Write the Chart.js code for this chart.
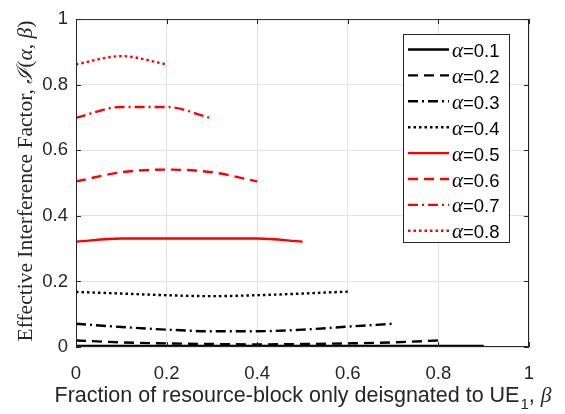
<!DOCTYPE html>
<html>
<head>
<meta charset="utf-8">
<script src="https://cdn.jsdelivr.net/npm/chart.js@4.4.0/dist/chart.umd.min.js"></script>
<style>
    html, body { margin: 0; padding: 0; background: #fff; }
    #wrap { width: 565px; height: 414px; }
</style>
</head>
<body>
<div id="wrap"><canvas id="chart" width="565" height="414"></canvas></div>
<script>
// Effective interference factor vs. beta, one curve per alpha

const betaValues = [0, 0.1, 0.2, 0.3, 0.4, 0.5, 0.6, 0.7, 0.8, 0.9];
const alphaLabels = ['0.1', '0.2', '0.3', '0.4', '0.5', '0.6', '0.7', '0.8'];

const alpha01 = [0.003, 0.003, 0.003, 0.003, 0.003, 0.003, 0.003, 0.003, 0.003, 0.003];
const alpha02 = [0.020, 0.014, 0.011, 0.009, 0.008, 0.009, 0.011, 0.014, 0.020];
const alpha03 = [0.071, 0.061, 0.053, 0.048, 0.048, 0.053, 0.062, 0.071];
const alpha04 = [0.168, 0.163, 0.158, 0.155, 0.158, 0.163, 0.169];
const alpha05 = [0.321, 0.331, 0.331, 0.331, 0.331, 0.321];
const alpha06 = [0.505, 0.533, 0.541, 0.533, 0.505];
const alpha07 = [0.699, 0.732, 0.732, 0.697];
const alpha08 = [0.862, 0.887, 0.862];

const xTicks = [0, 0.2, 0.4, 0.6, 0.8, 1];
const yTicks = [0, 0.2, 0.4, 0.6, 0.8, 1];

const seriesValues = [alpha01, alpha02, alpha03, alpha04, alpha05, alpha06, alpha07, alpha08];
const seriesColors = ['#000000', '#000000', '#000000', '#000000', '#ff0000', '#ff0000', '#ff0000', '#ff0000'];
const solid = [], dashed = [10, 6], dashDot = [10, 4, 2, 4], dotted = [2.5, 3];
const seriesDash = [solid, dashed, dashDot, dotted, solid, dashed, dashDot, dotted];

const SANS = '"Liberation Sans", Arial, sans-serif';
const SERIF = '"Liberation Serif", "Times New Roman", serif';
const TITLE_SIZE = 21.5;

const datasets = seriesValues.map((vals, i) => ({
    label: 'α=' + alphaLabels[i],
    data: vals.map((v, j) => ({ x: betaValues[j], y: v })),
    borderColor: seriesColors[i],
    borderWidth: 2.4,
    borderDash: seriesDash[i],
    pointRadius: 0,
    tension: 0.4,
    cubicInterpolationMode: 'monotone',
    fill: false
}));

// inward ticks, box, axis titles, legend
const matlabDecor = {
    id: 'matlabDecor',
    afterDatasetsDraw(chart) {
        const ctx = chart.ctx;
        const a = chart.chartArea;
        const xs = chart.scales.x, ys = chart.scales.y;
        ctx.save();
        ctx.strokeStyle = '#262626';
        ctx.lineWidth = 1;
        ctx.setLineDash([]);
        ctx.strokeRect(a.left + 0.5, a.top + 0.5, a.right - a.left - 1, a.bottom - a.top - 1);
        ctx.beginPath();
        xTicks.forEach(t => {
            const px = Math.round(xs.getPixelForValue(t)) + 0.5;
            ctx.moveTo(px, a.bottom); ctx.lineTo(px, a.bottom - 5);
            ctx.moveTo(px, a.top); ctx.lineTo(px, a.top + 5);
        });
        yTicks.forEach(t => {
            const py = Math.round(ys.getPixelForValue(t)) + 0.5;
            ctx.moveTo(a.left, py); ctx.lineTo(a.left + 5, py);
            ctx.moveTo(a.right, py); ctx.lineTo(a.right - 5, py);
        });
        ctx.stroke();

        // x title with subscript
        ctx.fillStyle = '#262626';
        ctx.textBaseline = 'alphabetic';
        const main = 'Fraction of resource-block only deisgnated to UE';
        const sub = '1';
        const tail = ', ';
        const mainFont = TITLE_SIZE + 'px ' + SANS;
        const subFont = '15px ' + SANS;
        const betaFont = 'italic ' + TITLE_SIZE + 'px ' + SERIF;
        ctx.font = mainFont;
        const wMain = ctx.measureText(main).width;
        const wTail = ctx.measureText(tail).width;
        ctx.font = subFont;
        const wSub = ctx.measureText(sub).width;
        ctx.font = betaFont;
        const wBeta = ctx.measureText('β').width;
        let x = (a.left + a.right) / 2 - (wMain + wSub + wTail + wBeta) / 2;
        const yb = 402;
        ctx.font = mainFont;
        ctx.fillText(main, x, yb); x += wMain;
        ctx.font = subFont;
        ctx.fillText(sub, x + 1, yb + 7); x += wSub + 1;
        ctx.font = mainFont;
        ctx.fillText(tail, x, yb); x += wTail;
        ctx.font = betaFont;
        ctx.fillText('β', x, yb);

        // y title, rotated
        ctx.save();
        ctx.translate(32, (a.top + a.bottom) / 2 - 2);
        ctx.rotate(-Math.PI / 2);
        const rf = TITLE_SIZE + 'px ' + SERIF;
        const itf = 'italic ' + TITLE_SIZE + 'px ' + SERIF;
        const parts = [
            ['Effective Interference Factor, ', rf],
            ['ℐ', itf],
            ['(', rf],
            ['α', itf],
            [', ', rf],
            ['β', itf],
            [')', rf]
        ];
        let total = 0;
        parts.forEach(p => { ctx.font = p[1]; total += ctx.measureText(p[0]).width; });
        let px = -total / 2;
        parts.forEach(p => { ctx.font = p[1]; ctx.fillText(p[0], px, 0); px += ctx.measureText(p[0]).width; });
        ctx.restore();

        // legend
        const lx = 403, ly = 34, lw = 106, lh = 208;
        ctx.fillStyle = '#ffffff';
        ctx.fillRect(lx, ly, lw, lh);
        ctx.strokeStyle = '#262626';
        ctx.lineWidth = 1;
        ctx.strokeRect(lx + 0.5, ly + 0.5, lw, lh);
        chart.data.datasets.forEach((ds, i) => {
            const cy = 49.5 + i * 25.9;
            ctx.strokeStyle = ds.borderColor;
            ctx.lineWidth = 2.4;
            ctx.setLineDash(ds.borderDash);
            ctx.beginPath();
            ctx.moveTo(408, cy); ctx.lineTo(449, cy);
            ctx.stroke();
            ctx.setLineDash([]);
            ctx.fillStyle = '#000000';
            ctx.textBaseline = 'alphabetic';
            ctx.font = 'italic 21px ' + SERIF;
            ctx.fillText('α', 452, cy + 7.5);
            const wa = ctx.measureText('α').width;
            ctx.font = '18.5px ' + SANS;
            ctx.fillText(ds.label.slice(1), 452 + wa, cy + 7.5);
        });
        ctx.restore();
    }
};

new Chart(document.getElementById('chart'), {
    type: 'line',
    data: { datasets: datasets },
    options: {
        responsive: false,
        animation: false,
        layout: { padding: { top: 12, right: 36, left: 0, bottom: 0 } },
        plugins: {
            legend: { display: false },
            tooltip: { enabled: false }
        },
        scales: {
            x: {
                type: 'linear',
                min: 0,
                max: 1,
                afterFit(scale) { scale.height = 67; },
                afterBuildTicks(scale) { scale.ticks = xTicks.map(v => ({ value: v })); },
                grid: { color: '#e3e3e3', drawTicks: false },
                border: { display: false },
                ticks: {
                    color: '#262626',
                    font: { family: SANS, size: 18.5 },
                    padding: 16,
                    maxRotation: 0,
                    callback: v => String(v)
                }
            },
            y: {
                type: 'linear',
                min: 0,
                max: 1,
                afterFit(scale) { scale.width = 76; },
                afterBuildTicks(scale) { scale.ticks = yTicks.map(v => ({ value: v })); },
                grid: { color: '#e3e3e3', drawTicks: false },
                border: { display: false },
                ticks: {
                    color: '#262626',
                    font: { family: SANS, size: 18.5 },
                    padding: 8,
                    callback: v => String(v)
                }
            }
        }
    },
    plugins: [matlabDecor]
});
</script>
</body>
</html>
